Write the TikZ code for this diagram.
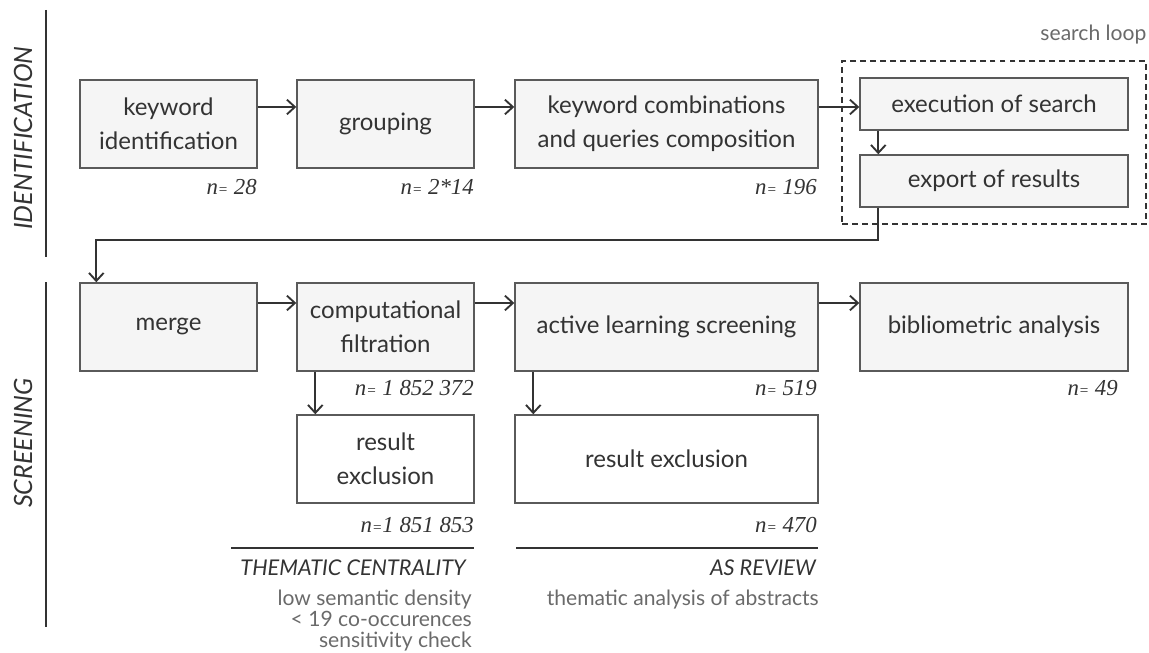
\documentclass[tikz,border=0pt]{standalone}
\usepackage{fontspec}
\setmainfont{Lato}
\newfontfamily\countfont{Liberation Serif}
\usepackage{tikz}
\usetikzlibrary{arrows.meta}
\usetikzlibrary{positioning}
\usetikzlibrary{fit,calc}
\definecolor{ink}{HTML}{333333}
\definecolor{soft ink}{HTML}{6A6A6A}
\definecolor{edge gray}{HTML}{5A5A5A}
\tikzstyle{stage}=[draw=edge gray,fill=box gray,line width=1.2pt,minimum height=26.4mm,inner sep=0,align=center,text=ink,font=\fontsize{20.5}{29}\selectfont]
\tikzstyle{flow}=[-{Straight Barb[length=2.4mm,width=4.4mm,line width=1.6pt]},line width=1.7pt,draw=ink]
\newcommand{\ncount}[1]{n{\fontsize{13}{13}\selectfont=}#1}

\begin{document}
\begin{tikzpicture}[
  x=0.03cm, y=-0.03cm,
  small stage/.style={stage,minimum width=53.1mm},
  wide stage/.style={stage,minimum width=90.9mm},
  right stage/.style={stage,minimum width=80.4mm},
  loop stage/.style={right stage,minimum height=15.6mm},
  excl/.style={fill=white},
  count/.style={anchor=east,inner sep=0,text=ink,font=\countfont\itshape\fontsize{19.5}{19.5}\selectfont},
  phase/.style={rotate=90,inner sep=0,text=ink,font=\itshape\fontsize{21.5}{22}\selectfont},
  head/.style={anchor=east,inner sep=0,text=ink,font=\itshape\fontsize{18.5}{20}\selectfont},
  note/.style={inner sep=0,align=right,text=soft ink,font=\fontsize{18}{17.9}\selectfont},
  rule/.style={line width=1.3pt,draw=ink},
]
\colorlet{box gray}{black!4}
\useasboundingbox (0,0) rectangle (1149,653);

% phases
\node[phase] (idlbl) at (23,138) {IDENTIFICATION};
\node[phase] (sclbl) at (23,443) {SCREENING};
\draw[rule] (46,10) -- (46,257);
\draw[rule] (46,282) -- (46,627);

% identification row
\node[small stage] (kwid) at (168.5,124) {keyword\\identification};
\node[small stage] (grp) at (385.5,124) {grouping};
\node[wide stage] (kwcomb) at (666.5,124) {keyword combinations\\and queries composition};
\node[loop stage] (exec) at (994,104) {execution of search};
\node[loop stage] (export) at (994,181) {export of results};
\node[draw=ink,line width=1.6pt,dash pattern=on 5pt off 3.5pt,inner xsep=5.1mm,inner ysep=5mm,fit=(exec)(export)] (loop) {};
\node[note,anchor=south east,yshift=4.6mm] (looplbl) at (loop.north east) {search loop};

\node[count] (n1) at (257,187) {\ncount{ 28}};
\node[count] (n2) at (474,187) {\ncount{ 2*14}};
\node[count] (n3) at (817,187) {\ncount{ 196}};

% screening row
\node[small stage] (merge) at (168.5,327) {merge};
\node[small stage] (filt) at (385.5,327) {computational\\filtration};
\node[wide stage] (active) at (666.5,327) {active learning screening};
\node[right stage] (biblio) at (994,327) {bibliometric analysis};
\node[small stage,excl] (excla) at (385.5,459) {result\\exclusion};
\node[wide stage,excl] (exclb) at (666.5,459) {result exclusion};

\node[count] (n4) at (474,388) {\ncount{ 1 852 372}};
\node[count] (n5) at (817,388) {\ncount{ 519}};
\node[count] (n6) at (1118,388) {\ncount{ 49}};
\node[count] (n7) at (474,525) {\ncount{1 851 853}};
\node[count] (n8) at (817,525) {\ncount{ 470}};

% connectors
\draw[flow] ([yshift=5.1mm]kwid.east) -- ([yshift=5.1mm]grp.west);
\draw[flow] ([yshift=5.1mm]grp.east) -- ([yshift=5.1mm]kwcomb.west);
\coordinate (k3) at ([yshift=5.1mm]kwcomb.east);
\draw[flow] (k3) -- (k3 -| exec.west);
\draw[flow] ([xshift=5.7mm]exec.south west) -- ([xshift=5.7mm]export.north west);
\coordinate (turn) at (500,240);
\draw[flow] ([xshift=5.7mm]export.south west) |- (turn) -| ([xshift=5.1mm]merge.north west);
\draw[flow] ([yshift=7.2mm]merge.east) -- ([yshift=7.2mm]filt.west);
\draw[flow] ([yshift=7.2mm]filt.east) -- ([yshift=7.2mm]active.west);
\draw[flow] ([yshift=7.2mm]active.east) -- ([yshift=7.2mm]biblio.west);
\draw[flow] ([xshift=5.7mm]filt.south west) -- ([xshift=5.7mm]excla.north west);
\draw[flow] ([xshift=5.7mm]active.south west) -- ([xshift=5.7mm]exclb.north west);

% methods
\draw[rule] (231,548) -- (474,548);
\draw[rule] (516,548) -- (818,548);
\node[head] (tchead) at (466,568) {THEMATIC CENTRALITY};
\node[head] (ashead) at (816,568) {AS REVIEW};
\node[note,anchor=north east] (tcnote) at (472,590) {low semantic density\\< 19 co-occurences\\sensitivity check};
\node[note,anchor=north east] (asnote) at (819,590) {thematic analysis of abstracts};
\end{tikzpicture}
\end{document}
